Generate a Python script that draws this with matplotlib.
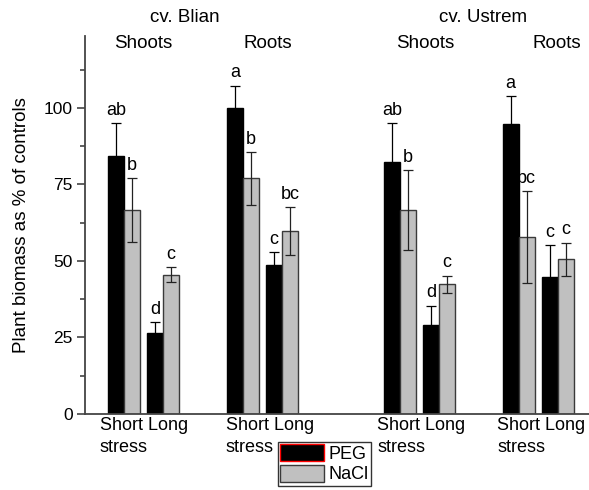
"""
Plant biomass (% of controls) under PEG and NaCl stress
cv. Blian / cv. Ustrem, shoots and roots, short and long stress
"""

import numpy as np
import matplotlib.pyplot as plt
from matplotlib.ticker import MultipleLocator

plt.rcParams['font.family'] = ['Liberation Sans', 'DejaVu Sans']

# groups: Blian shoots, Blian roots, Ustrem shoots, Ustrem roots
# each group: [short, long]
peg_mean = [[84.3, 26.6], [100.0, 48.7], [82.2, 29.1], [94.7, 44.8]]
peg_err = [[10.7, 3.5], [7.3, 4.3], [12.8, 6.3], [9.2, 10.5]]
nacl_mean = [[66.7, 45.5], [77.0, 59.9], [66.6, 42.4], [57.8, 50.6]]
nacl_err = [[10.5, 2.5], [8.7, 7.8], [13.0, 2.8], [15.0, 5.4]]
peg_letters = [["ab", "d"], ["a", "c"], ["ab", "d"], ["a", "c"]]
nacl_letters = [["b", "c"], ["b", "bc"], ["b", "c"], ["bc", "c"]]

organs = ["Shoots", "Roots", "Shoots", "Roots"]
cultivars = ["cv. Blian", "cv. Ustrem"]
legend_labels = ["PEG", "NaCl"]

# layout (x axis in bar-width units)
group_left = np.array([1.44, 8.88, 18.69, 26.1])
pair_step = 2.44
bw = 1.0

fig = plt.figure(figsize=(5.89, 4.90), dpi=100)
W, H = 589, 490
ax = fig.add_axes([85 / W, (H - 414) / H, (W - 85) / W, (414 - 36) / H])

gray = '#c0c0c0'
handles = []
for g in range(4):
    for k in range(2):
        x0 = group_left[g] + k * pair_step
        hp = ax.bar(x0 + bw / 2, peg_mean[g][k], bw, color='black', edgecolor='black',
                    linewidth=1.0, zorder=2)
        hn = ax.bar(x0 + 1.5 * bw, nacl_mean[g][k], bw, color=gray, edgecolor='#3a3a3a',
                    linewidth=1.0, zorder=2)
        ax.errorbar(x0 + bw / 2, peg_mean[g][k], yerr=peg_err[g][k], fmt='none',
                    ecolor='black', elinewidth=0.9, capsize=3.5, capthick=0.9, zorder=3)
        ax.errorbar(x0 + 1.5 * bw, nacl_mean[g][k], yerr=nacl_err[g][k], fmt='none',
                    ecolor='#222222', elinewidth=0.9, capsize=3.5, capthick=0.9, zorder=3)
        ax.annotate(peg_letters[g][k], (x0 + bw / 2, peg_mean[g][k] + peg_err[g][k]),
                    xytext=(0, 3), textcoords='offset points', ha='center', va='bottom',
                    fontsize=13)
        ax.annotate(nacl_letters[g][k], (x0 + 1.5 * bw, nacl_mean[g][k] + nacl_err[g][k]),
                    xytext=(0, 3), textcoords='offset points', ha='center', va='bottom',
                    fontsize=13)
        if g == 0 and k == 0:
            handles = [hp, hn]

ax.set_xlim(0, 31.5)
ax.set_ylim(0, 123.5)
ax.yaxis.set_major_locator(MultipleLocator(25))
ax.yaxis.set_minor_locator(MultipleLocator(12.5))
ax.set_xticks([])
ax.tick_params(axis='y', which='major', length=6, width=1.2, color='#444444',
               labelsize=12.5, pad=3)
ax.tick_params(axis='y', which='minor', length=3.5, width=1.2, color='#444444')
for s in ['top', 'right']:
    ax.spines[s].set_visible(False)
for s in ['left', 'bottom']:
    ax.spines[s].set_color('#444444')
    ax.spines[s].set_linewidth(1.3)

ax.set_ylabel("Plant biomass as % of controls", fontsize=13.5, labelpad=10)

# texts in figure pixel coords
def fx(px):
    return px / W

def fy(py):
    return 1 - py / H

organ_x = [143, 268, 425, 557]
for lab, px in zip(organs, organ_x):
    fig.text(fx(px), fy(44), lab, ha='center', va='center', fontsize=13.5)
for lab, px in zip(cultivars, [185, 483]):
    fig.text(fx(px), fy(17), lab, ha='center', va='center', fontsize=13.5)

xlab_left = [100, 226, 377, 497]
for px in xlab_left:
    fig.text(fx(px), fy(425), "Short Long", ha='left', va='center', fontsize=13)
    fig.text(fx(px), fy(447), "stress", ha='left', va='center', fontsize=13)

leg = fig.legend(handles, legend_labels, loc='upper left',
                 bbox_to_anchor=(fx(278), fy(442)), fontsize=13,
                 frameon=True, fancybox=False, handlelength=2.4, handleheight=1.05,
                 handletextpad=0.3, labelspacing=0.12, borderpad=0.12,
                 borderaxespad=0.0)
leg.get_frame().set_edgecolor('black')
leg.get_frame().set_linewidth(1.0)
leg.legend_handles[0].set_edgecolor('red')

fig.savefig("out.png", dpi=100)
